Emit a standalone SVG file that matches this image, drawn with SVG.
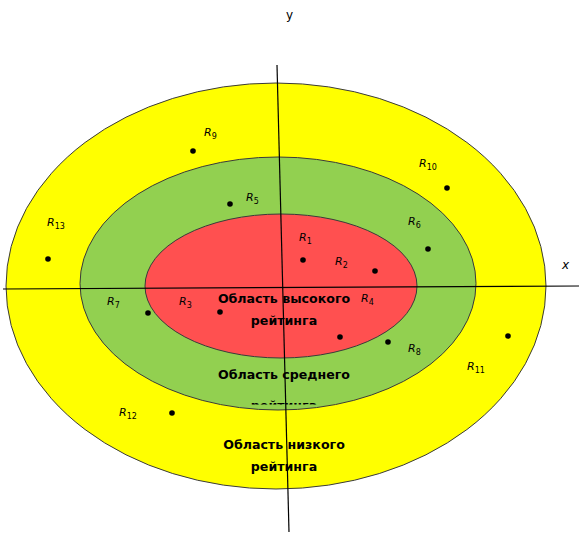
<svg xmlns="http://www.w3.org/2000/svg" width="579" height="534" viewBox="0 0 579 534">
<style>
.zone{stroke:#3a3a3a;stroke-width:1}
.ax{stroke:#000;stroke-width:1.2;fill:none}
.dot{fill:#000}
.r{font-family:"DejaVu Sans","Liberation Sans",sans-serif;font-style:italic;font-size:11px;fill:#000}
.r tspan{font-size:8px;font-style:normal}
.t{font-family:"DejaVu Sans","Liberation Sans",sans-serif;font-weight:bold;font-size:12.6px;fill:#000;text-anchor:middle}
.axl{font-family:"DejaVu Sans","Liberation Sans",sans-serif;font-size:12px;fill:#000}
</style>
<defs>
<clipPath id="clipMid"><rect x="200" y="390" width="170" height="14.5"/></clipPath>
</defs>
<rect width="579" height="534" fill="#fff"/>
<g id="low-zone"><ellipse class="zone" cx="276" cy="286" rx="270" ry="203" fill="#ffff00"/></g>
<g id="mid-zone"><ellipse class="zone" cx="278" cy="283.5" rx="198" ry="126.5" fill="#92d050"/></g>
<g id="high-zone"><ellipse class="zone" cx="281" cy="286" rx="136" ry="72" fill="#ff5050"/></g>
<g id="axes">
<line class="ax" x1="3" y1="289" x2="579" y2="286"/>
<line class="ax" x1="277" y1="65" x2="289" y2="532"/>
<text class="axl" x="562" y="269" font-style="italic">x</text>
<text class="axl" x="286" y="19">y</text>
</g>
<g id="zone-labels">
<text class="t" x="284" y="303">Область высокого</text>
<text class="t" x="284" y="325">рейтинга</text>
<text class="t" x="284" y="379">Область среднего</text>
<text class="t" x="284" y="410" clip-path="url(#clipMid)">рейтинга</text>
<text class="t" x="284" y="449">Область низкого</text>
<text class="t" x="284" y="471">рейтинга</text>
</g>
<g id="points">
<g id="R1"><circle class="dot" cx="303" cy="260" r="2.8"/><text class="r" x="299" y="241">R<tspan dy="3">1</tspan></text></g>
<g id="R2"><circle class="dot" cx="375" cy="271" r="2.8"/><text class="r" x="335" y="265">R<tspan dy="3">2</tspan></text></g>
<g id="R3"><circle class="dot" cx="220" cy="312" r="2.8"/><text class="r" x="179" y="305">R<tspan dy="3">3</tspan></text></g>
<g id="R4"><circle class="dot" cx="340" cy="337" r="2.8"/><text class="r" x="361" y="302">R<tspan dy="3">4</tspan></text></g>
<g id="R5"><circle class="dot" cx="230" cy="204" r="2.8"/><text class="r" x="246" y="201">R<tspan dy="3">5</tspan></text></g>
<g id="R6"><circle class="dot" cx="428" cy="249" r="2.8"/><text class="r" x="408" y="225">R<tspan dy="3">6</tspan></text></g>
<g id="R7"><circle class="dot" cx="148" cy="313" r="2.8"/><text class="r" x="107" y="305">R<tspan dy="3">7</tspan></text></g>
<g id="R8"><circle class="dot" cx="388" cy="342" r="2.8"/><text class="r" x="408" y="352">R<tspan dy="3">8</tspan></text></g>
<g id="R9"><circle class="dot" cx="193" cy="151" r="2.8"/><text class="r" x="204" y="136">R<tspan dy="3">9</tspan></text></g>
<g id="R10"><circle class="dot" cx="447" cy="188" r="2.8"/><text class="r" x="419" y="167">R<tspan dy="3">10</tspan></text></g>
<g id="R11"><circle class="dot" cx="508" cy="336" r="2.8"/><text class="r" x="467" y="370">R<tspan dy="3">11</tspan></text></g>
<g id="R12"><circle class="dot" cx="172" cy="413" r="2.8"/><text class="r" x="119" y="416">R<tspan dy="3">12</tspan></text></g>
<g id="R13"><circle class="dot" cx="48" cy="259" r="2.8"/><text class="r" x="47" y="226">R<tspan dy="3">13</tspan></text></g>
</g>
</svg>
